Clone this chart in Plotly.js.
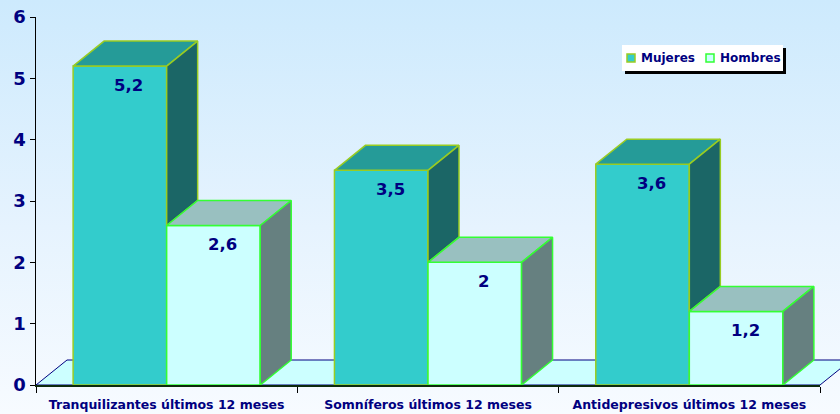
<!DOCTYPE html>
<html><head><meta charset="utf-8">
<script src="https://cdn.plot.ly/plotly-3.0.1.min.js"></script>
<style>
html,body{margin:0;padding:0;background:#fff;}
#chart{width:840px;height:414px;background:linear-gradient(to bottom,#cdeafd 0%,#e6f3fe 55%,#f7fbff 100%);}
</style></head><body><div id="chart"></div>
<script>
// ---- data ----
const categories = ['Tranquilizantes últimos 12 meses', 'Somníferos últimos 12 meses', 'Antidepresivos últimos 12 meses'];
const seriesNames = ['Mujeres', 'Hombres'];
const mujeres = [5.2, 3.5, 3.6];
const hombres = [2.6, 2.0, 1.2];
const yTickVals = [0, 1, 2, 3, 4, 5, 6];

// ---- layout constants ----
const W = 840, H = 414, ML = 36, MR = 20, MT = 17, MB = 29;
const PW = W - ML - MR, PH = H - MT - MB;
const YMAX = 6;
const BW = 0.358;                    // bar width (category units)
const DXPX = 31, DYPX = 25;          // 3-D depth in pixels
const DX = DXPX / (PW / categories.length);
const DY = DYPX / (PH / YMAX);
const NAVY = '#000080';
const FONT = 'DejaVu Sans';

const styles = {
  Mujeres: {front: '#33cccc', top: '#259b98', side: '#1b6666', border: '#99cc22', offset: -BW},
  Hombres: {front: '#ccffff', top: '#99c0c0', side: '#668080', border: '#33ff33', offset: 0}
};
const seriesVals = {Mujeres: mujeres, Hombres: hombres};
const fmt = v => String(v).replace('.', ',');

const xIdx = categories.map((c, i) => i);
const traces = [];
const annotations = [];

seriesNames.forEach(name => {
  const st = styles[name];
  const vals = seriesVals[name];
  traces.push({
    type: 'bar', name: name, x: xIdx, y: vals, width: BW, offset: st.offset,
    marker: {color: st.front, line: {color: st.border, width: 1.5}},
    showlegend: false, hoverinfo: 'y'
  });
  vals.forEach((v, i) => {
    const x0 = i + st.offset, x1 = x0 + BW;
    // top face
    traces.push({
      type: 'scatter', mode: 'lines', fill: 'toself', fillcolor: st.top,
      x: [x0, x1, x1 + DX, x0 + DX, x0], y: [v, v, v + DY, v + DY, v],
      line: {color: st.border, width: 1.5}, showlegend: false, hoverinfo: 'skip'
    });
    // side face (visible part only)
    const b = name === 'Mujeres' ? Math.min(hombres[i], v) : 0;
    traces.push({
      type: 'scatter', mode: 'lines', fill: 'toself', fillcolor: st.side,
      x: [x1, x1 + DX, x1 + DX, x1, x1], y: [b, b + DY, v + DY, v, b],
      line: {color: st.border, width: 1.5}, showlegend: false, hoverinfo: 'skip'
    });
    annotations.push({
      x: x0 + BW / 2, y: v, xref: 'x', yref: 'y', text: fmt(v), showarrow: false,
      xshift: 9, yshift: -19, yanchor: 'middle',
      font: {family: FONT, size: 16.5, color: NAVY, weight: 'bold'}
    });
  });
});

// pixel -> paper helpers
const px = p => (p - ML) / PW;
const py = p => (H - MB - p) / PH;

const shapes = [];
// floor
const fx = DXPX / PW, fy = DYPX / PH;
shapes.push({
  type: 'path', xref: 'paper', yref: 'paper', layer: 'below',
  path: `M 0 0 L ${fx} ${fy} L ${1 + fx} ${fy} L 1 0 Z`,
  fillcolor: '#ccffff', line: {color: NAVY, width: 1}
});
// legend box with shadow
shapes.push({type: 'rect', xref: 'paper', yref: 'paper', x0: px(625), x1: px(786), y0: py(74), y1: py(48),
  fillcolor: '#000000', line: {width: 0}});
shapes.push({type: 'rect', xref: 'paper', yref: 'paper', x0: px(622), x1: px(783), y0: py(71), y1: py(45),
  fillcolor: '#ffffff', line: {width: 0}});
const legendX = [627, 706];
seriesNames.forEach((name, k) => {
  const st = styles[name];
  shapes.push({type: 'rect', xref: 'paper', yref: 'paper', x0: px(legendX[k]), x1: px(legendX[k] + 8),
    y0: py(62), y1: py(54), fillcolor: st.front, line: {color: st.border, width: 1.5}});
  annotations.push({x: px(legendX[k] + 12), y: py(58), xref: 'paper', yref: 'paper', xanchor: 'left', yanchor: 'middle',
    text: name, showarrow: false, font: {family: FONT, size: 12, color: NAVY, weight: 'bold'}});
});

const layout = {
  width: W, height: H,
  margin: {l: ML, r: MR, t: MT, b: MB, pad: 0},
  paper_bgcolor: 'rgba(0,0,0,0)', plot_bgcolor: 'rgba(0,0,0,0)',
  barmode: 'overlay', showlegend: false,
  xaxis: {
    range: [-0.5, categories.length - 0.5], tickvals: xIdx, ticktext: categories,
    ticks: '', showgrid: false, zeroline: false, showline: true, linecolor: '#0d2a0d', linewidth: 2,
    ticklabelstandoff: 7,
    tickfont: {family: FONT, size: 12.5, color: NAVY, weight: 'bold'},
    minor: {tickmode: 'linear', tick0: -0.5, dtick: 1, ticks: 'outside', ticklen: 6, tickcolor: '#000', tickwidth: 1, showgrid: false},
    fixedrange: true
  },
  yaxis: {
    range: [0, YMAX], tickvals: yTickVals, ticks: 'outside', ticklen: 5, tickcolor: '#000',
    showgrid: false, zeroline: false, showline: true, linecolor: '#000', linewidth: 1.5,
    tickfont: {family: FONT, size: 18, color: NAVY, weight: 'bold'}, fixedrange: true
  },
  shapes: shapes, annotations: annotations
};

Plotly.newPlot('chart', traces, layout, {displayModeBar: false, staticPlot: true});
</script></body></html>
